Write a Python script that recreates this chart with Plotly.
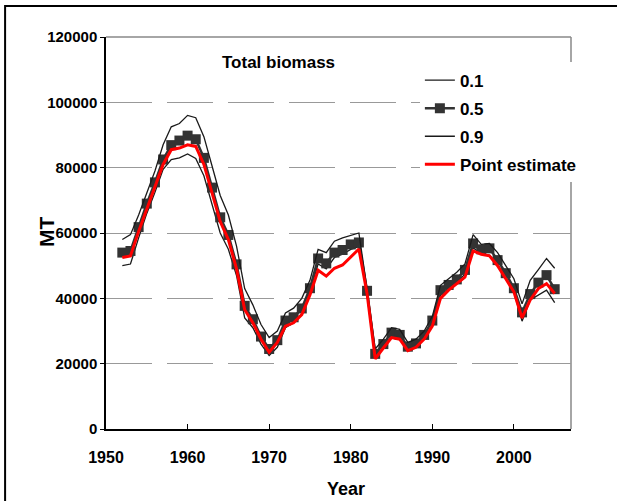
import plotly.graph_objects as go

years = list(range(1952, 2006))

q50 = [54000, 54500, 61800, 69000, 75500, 82500, 86900, 88300, 89800, 88700,
       83000, 73900, 64800, 59400, 50400, 37700, 33600, 28300, 24500, 27200,
       33200, 34200, 36900, 43100, 52200, 50700, 54000, 54800, 56500, 57100,
       42300, 23000, 26000, 29500, 28800, 25200, 26200, 28800, 33200, 42500,
       44100, 45800, 48700, 56800, 55000, 55300, 51700, 47700, 43100, 35700,
       41300, 44800, 47100, 42800]

point_est = [52500, 53000, 60500, 67500, 74000, 81000, 85500, 86000, 87000, 86500,
             81000, 72000, 63500, 58000, 49000, 36500, 32500, 27500, 23500, 26500,
             31500, 32500, 35000, 41000, 48600, 46800, 49200, 50200, 52700, 55100,
             41500, 21500, 24800, 28000, 27500, 24000, 25000, 27500, 31500, 40000,
             42500, 44500, 46500, 54500, 53500, 53000, 50000, 46000, 42000, 34000,
             39500, 43000, 44500, 41500]

q90 = [58000, 59500, 65500, 72000, 79000, 87000, 92500, 93500, 96000, 95300,
       89500, 80500, 71500, 65500, 56000, 43000, 38000, 32000, 28000, 30000,
       35500, 37000, 40000, 45500, 55000, 54000, 57500, 58500, 59300, 60000,
       43000, 24500, 27500, 31000, 30500, 26500, 27500, 30000, 34500, 44000,
       46000, 48000, 50500, 59500, 56500, 56800, 54000, 50000, 46000, 38300,
       45500, 48800, 52200, 49200]

q10 = [50000, 50500, 58500, 66000, 72500, 79500, 82500, 83000, 84200, 82800,
       77500, 69000, 60000, 55000, 47000, 34000, 31000, 26000, 22500, 25000,
       31000, 32500, 35000, 42000, 50500, 49000, 52500, 53500, 55000, 55800,
       41500, 21800, 25000, 28500, 27800, 24000, 25000, 28000, 32000, 41000,
       43000, 44800, 47500, 55500, 53500, 53200, 50500, 46500, 42000, 33000,
       39500, 41000, 42500, 38700]

legend_names = ["0.1", "0.5", "0.9", "Point estimate"]
chart_title = "Total biomass"
x_title = "Year"
y_title = "MT"

FONT = "Liberation Sans, Arial, sans-serif"

fig = go.Figure()
fig.add_trace(go.Scatter(x=years, y=q10, name=legend_names[0], mode="lines",
                         legendgroup="a",
                         line=dict(color="#1a1a1a", width=1.3)))
fig.add_trace(go.Scatter(x=years, y=q50, name=legend_names[1], mode="lines+markers",
                         legendgroup="b",
                         line=dict(color="#333333", width=2.5),
                         marker=dict(symbol="square", size=10, color="#333333")))
fig.add_trace(go.Scatter(x=years, y=q90, name=legend_names[2], mode="lines",
                         legendgroup="c",
                         line=dict(color="#1a1a1a", width=1.3)))
fig.add_trace(go.Scatter(x=years, y=point_est, name=legend_names[3], mode="lines",
                         legendgroup="d",
                         line=dict(color="#ff0000", width=3)))

fig.update_layout(
    width=617, height=501,
    margin=dict(l=106, r=46, t=37, b=72),
    paper_bgcolor="white", plot_bgcolor="white",
    font=dict(family=FONT, color="black"),
    showlegend=True,
    legend=dict(x=0.675, y=0.935, xanchor="left", yanchor="top",
                bgcolor="white", borderwidth=0,
                font=dict(family=FONT, size=17, color="black", weight="bold"),
                itemwidth=30, tracegroupgap=3),
    xaxis=dict(range=[1950, 2007], dtick=10, tick0=1950,
               showline=True, linecolor="black", linewidth=1.5,
               ticks="inside", ticklen=5, tickcolor="black",
               showgrid=False, zeroline=False,
               ticklabelstandoff=13,
               tickfont=dict(family=FONT, size=16, color="black", weight="bold")),
    yaxis=dict(range=[0, 120000], dtick=20000, tickformat="d",
               showline=True, linecolor="black", linewidth=1.5,
               ticks="outside", ticklen=4, tickcolor="black",
               showgrid=True, gridcolor="#999999", gridwidth=1.2,
               griddash="46px,15px", zeroline=False,
               tickfont=dict(family=FONT, size=15, color="black", weight="bold")),
)

# plot-area frame (top and right in grey)
fig.add_shape(type="line", xref="paper", yref="paper", x0=0, x1=1, y0=1, y1=1,
              line=dict(color="#888888", width=1.5), layer="below")
fig.add_shape(type="line", xref="paper", yref="paper", x0=1, x1=1, y0=0, y1=1,
              line=dict(color="#888888", width=1.5), layer="below")
# outer chart border
fig.add_shape(type="rect", xref="paper", yref="paper",
              x0=-0.217, x1=1.12, y0=-0.2, y1=1.079,
              line=dict(color="black", width=2), fillcolor="rgba(0,0,0,0)")

fig.add_annotation(text=chart_title, xref="paper", yref="paper",
                   x=(278 - 106) / 465, y=(429 - 62) / 392,
                   xanchor="center", yanchor="middle", showarrow=False,
                   font=dict(family=FONT, size=17, color="black", weight="bold"))
# axis titles placed as in the reference
fig.add_annotation(text=y_title, xref="paper", yref="paper",
                   x=(46 - 106) / 465, y=(429 - 232) / 392, textangle=-90,
                   xanchor="center", yanchor="middle", showarrow=False,
                   font=dict(family=FONT, size=21, color="black", weight="bold"))
fig.add_annotation(text=x_title, xref="paper", yref="paper",
                   x=(346 - 106) / 465, y=(429 - 489) / 392,
                   xanchor="center", yanchor="middle", showarrow=False,
                   font=dict(family=FONT, size=18, color="black", weight="bold"))

fig.write_html("out.html")
